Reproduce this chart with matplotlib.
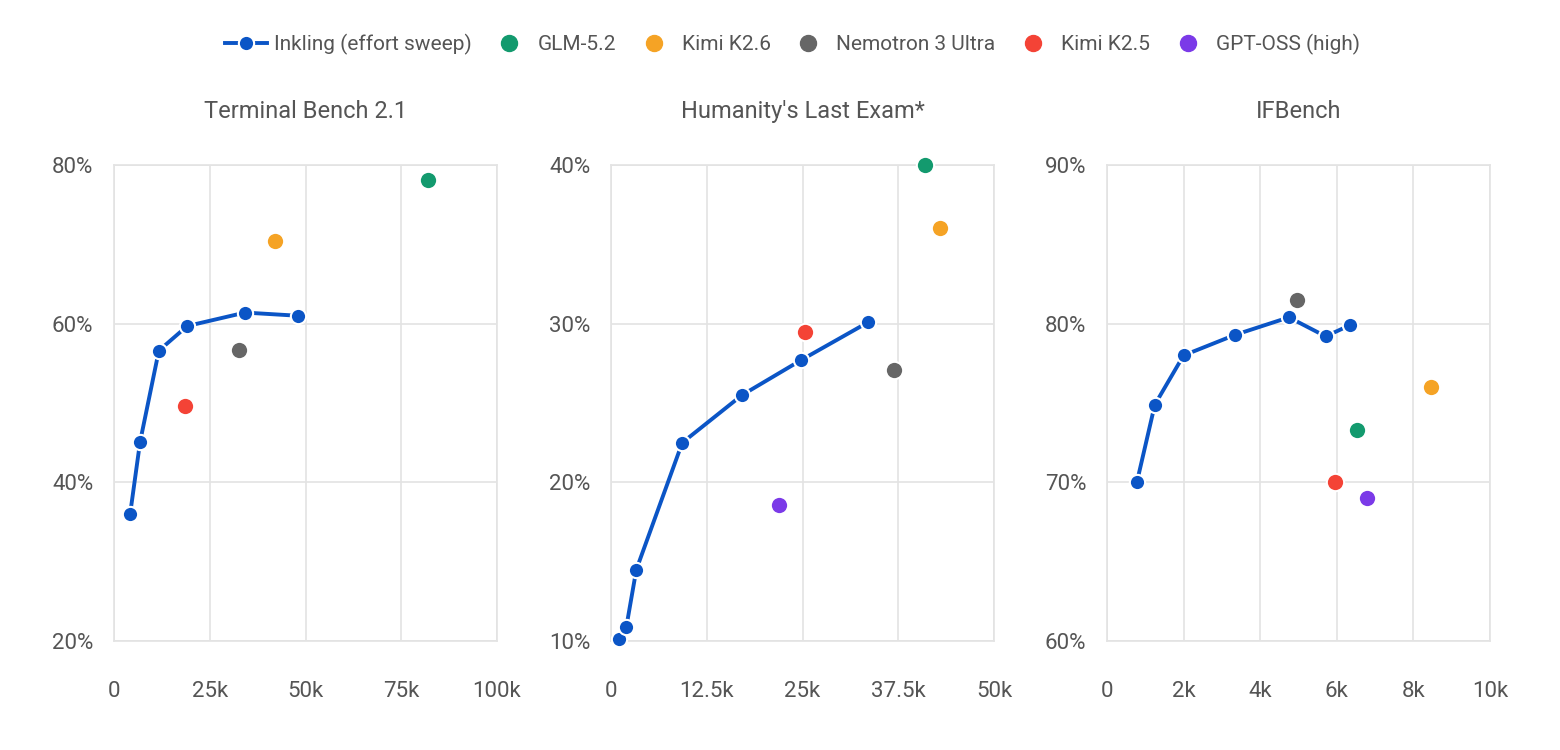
import numpy as np
import matplotlib.pyplot as plt
from matplotlib.lines import Line2D
from matplotlib.ticker import FuncFormatter

plt.rcParams['font.family'] = ['Roboto', 'DejaVu Sans']

titles = ["Terminal Bench 2.1", "Humanity's Last Exam*", "IFBench"]

# Inkling effort sweep: (tokens, score %)
sweep_x = [
    [4200, 6800, 11700, 19100, 34200, 48000],
    [1000, 2000, 3300, 9300, 17100, 24800, 33600],
    [780, 1250, 2000, 3350, 4750, 5710, 6340],
]
sweep_y = [
    [36.0, 45.1, 56.6, 59.7, 61.4, 61.0],
    [10.1, 10.9, 14.5, 22.5, 25.5, 27.7, 30.1],
    [70.0, 74.9, 78.0, 79.3, 80.4, 79.2, 79.9],
]

models = ["GLM-5.2", "Kimi K2.6", "Nemotron 3 Ultra", "Kimi K2.5", "GPT-OSS (high)"]
model_colors = ["#139a6e", "#f5a325", "#666666", "#f44336", "#7b3ae8"]

# per benchmark: model -> (tokens, score)
model_pts = [
    {"GLM-5.2": (82000, 78.1), "Kimi K2.6": (42000, 70.4),
     "Nemotron 3 Ultra": (32600, 56.7), "Kimi K2.5": (18500, 49.6)},
    {"GLM-5.2": (41000, 40.0), "Kimi K2.6": (43000, 36.0),
     "Nemotron 3 Ultra": (36900, 27.1), "Kimi K2.5": (25300, 29.5),
     "GPT-OSS (high)": (21900, 18.6)},
    {"GLM-5.2": (6520, 73.3), "Kimi K2.6": (8470, 76.0),
     "Nemotron 3 Ultra": (4960, 81.5), "Kimi K2.5": (5950, 70.0),
     "GPT-OSS (high)": (6780, 69.0)},
]

x_ticks = [
    [0, 25000, 50000, 75000, 100000],
    [0, 12500, 25000, 37500, 50000],
    [0, 2000, 4000, 6000, 8000, 10000],
]
x_labels = [
    ["0", "25k", "50k", "75k", "100k"],
    ["0", "12.5k", "25k", "37.5k", "50k"],
    ["0", "2k", "4k", "6k", "8k", "10k"],
]
y_ticks = [
    [20, 40, 60, 80],
    [10, 20, 30, 40],
    [60, 70, 80, 90],
]

blue = "#0b55c6"
grid_c = "#e3e3e3"
text_c = "#555555"

fig = plt.figure(figsize=(15.6, 7.5), dpi=100)
lefts = [0.0731, 0.3917, 0.7096]
for i in range(3):
    ax = fig.add_axes([lefts[i], 0.1453, 0.2455, 0.6347])
    ax.plot(sweep_x[i], sweep_y[i], color=blue, lw=2.8, marker="o",
            markersize=11, markerfacecolor=blue, markeredgecolor="white",
            markeredgewidth=1.5, zorder=3, clip_on=False)
    for m, c in zip(models, model_colors):
        if m in model_pts[i]:
            px, py = model_pts[i][m]
            ax.plot([px], [py], "o", color=c, markersize=12.5,
                    markeredgecolor="white", markeredgewidth=1.5,
                    zorder=4, clip_on=False)
    ax.set_xlim(x_ticks[i][0], x_ticks[i][-1])
    ax.set_ylim(y_ticks[i][0], y_ticks[i][-1])
    ax.set_xticks(x_ticks[i])
    ax.set_xticklabels(x_labels[i])
    ax.set_yticks(y_ticks[i])
    ax.yaxis.set_major_formatter(FuncFormatter(lambda v, p: f"{v:.0f}%"))
    ax.grid(True, color=grid_c, lw=1.2)
    ax.set_axisbelow(True)
    for s in ax.spines.values():
        s.set_color(grid_c)
        s.set_linewidth(1.2)
    ax.tick_params(axis="x", length=0, labelsize=16, colors=text_c, pad=29)
    ax.tick_params(axis="y", length=0, labelsize=16, colors=text_c, pad=15)
    ax.set_title(titles[i], fontsize=17, color=text_c, pad=34)

handles = [Line2D([0], [0], color=blue, lw=2.8, marker="o", markersize=11,
                  markeredgecolor="white", markeredgewidth=1.5)]
for c in model_colors:
    handles.append(Line2D([0], [0], ls="none", marker="o", color=c, markersize=11.5))
fig.legend(handles, ["Inkling (effort sweep)"] + models, loc="center",
           bbox_to_anchor=(0.508, 0.941), ncol=6, frameon=False, fontsize=15,
           handlelength=2.0, handletextpad=0.35, columnspacing=0.8,
           labelcolor=text_c)

fig.savefig("out.png", dpi=100, facecolor="white")
